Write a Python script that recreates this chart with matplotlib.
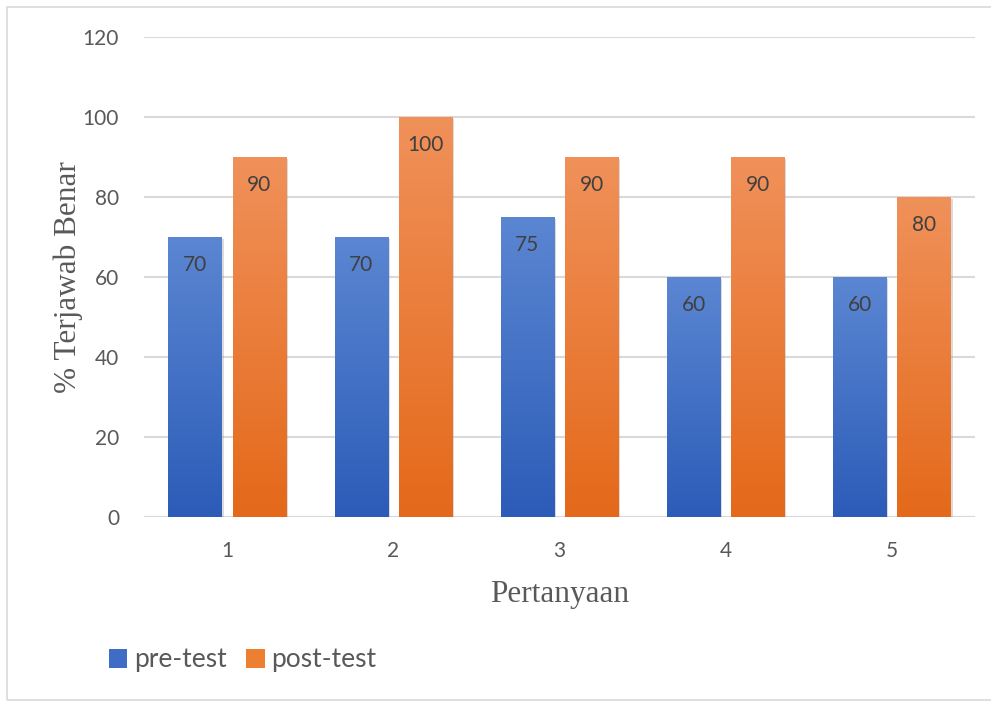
import numpy as np
import matplotlib.pyplot as plt
from matplotlib.patches import Rectangle
from matplotlib.colors import LinearSegmentedColormap
import matplotlib.patheffects as pe

categories = ['1', '2', '3', '4', '5']
pre_test = [70, 70, 75, 60, 60]
post_test = [90, 100, 90, 90, 80]
yticks = [0, 20, 40, 60, 80, 100, 120]

W, H = 991, 702
fig = plt.figure(figsize=(W / 100, H / 100), dpi=100)
ax = fig.add_axes([144 / W, 1 - 517 / H, (975 - 144) / W, (517 - 37) / H])

# outer chart border
fig.patches.append(Rectangle((7 / W, 2 / H), 1.2, 1 - 9 / H, transform=fig.transFigure,
                             fill=False, edgecolor='#d9d9d9', lw=1.2))

blue_cm = LinearSegmentedColormap.from_list('b', ['#2c5cb8', '#5b86d2'])
orange_cm = LinearSegmentedColormap.from_list('o', ['#e4691a', '#f0915a'])

x = np.arange(len(categories))
width = 0.32
off = 0.193
grad = np.linspace(0, 1, 256).reshape(-1, 1)
font = ['Lato', 'DejaVu Sans']


def draw_bars(xs, vals, cmap, face):
    bars = ax.bar(xs, vals, width, color=face, zorder=3,
                  path_effects=[pe.SimplePatchShadow(offset=(1.5, -1.5), shadow_rgbFace='#999999', alpha=0.35),
                                pe.Normal()])
    for b, v in zip(bars, vals):
        x0 = b.get_x()
        im = ax.imshow(grad, cmap=cmap, origin='lower', aspect='auto',
                       extent=(x0, x0 + width, 0, v), zorder=4)
        im.set_clip_path(b)
        ax.text(x0 + width / 2, v - 7, str(v), ha='center', va='center',
                fontsize=15, color='#404040', family=font, zorder=5)
    return bars


b1 = draw_bars(x - off, pre_test, blue_cm, '#4472c4')
b2 = draw_bars(x + off, post_test, orange_cm, '#ed7d31')

ax.set_xlim(-0.5, len(categories) - 0.5)
ax.set_ylim(0, 120)
ax.set_yticks(yticks)
ax.set_xticks(x)
ax.set_xticklabels(categories)
ax.grid(axis='y', color='#d9d9d9', lw=1.5, zorder=0)
ax.axhline(0, color='#d9d9d9', lw=1.5, zorder=1)
for s in ax.spines.values():
    s.set_visible(False)
ax.tick_params(length=0, labelsize=15, labelcolor='#595959')
ax.tick_params(axis='x', pad=17)
ax.tick_params(axis='y', pad=18)
for lab in ax.get_xticklabels() + ax.get_yticklabels():
    lab.set_family(font)

ax.set_xlabel('Pertanyaan', family='Liberation Serif', fontsize=22.5, color='#595959', labelpad=14)
ax.set_ylabel('% Terjawab Benar', family='Liberation Serif', fontsize=22.5, color='#595959', labelpad=0)

# legend
h1 = Rectangle((0, 0), 1, 1, facecolor='#3f6dc6')
h2 = Rectangle((0, 0), 1, 1, facecolor='#ee7f30')
fig.legend([h1, h2], ['pre-test', 'post-test'], loc='center left',
           bbox_to_anchor=(85 / W, 1 - 660 / H), frameon=False, ncol=2,
           prop={'family': font, 'size': 19},
           labelcolor='#595959', handlelength=0.7, handleheight=0.7,
           handletextpad=0.25, columnspacing=0.75)

fig.savefig('out.png', dpi=100)
